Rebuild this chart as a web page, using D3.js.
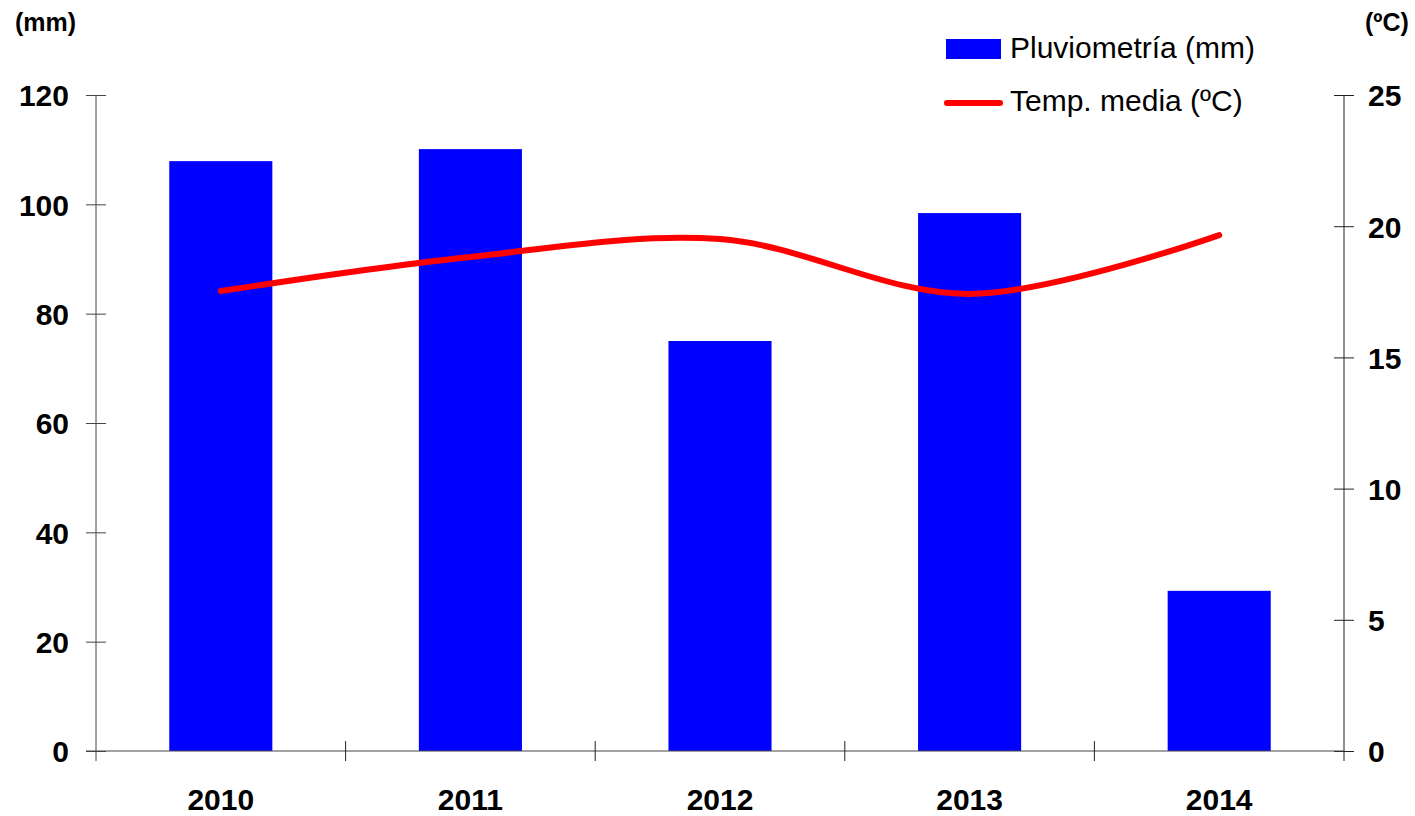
<!DOCTYPE html>
<html>
<head>
<meta charset="utf-8">
<script src="https://cdn.jsdelivr.net/npm/d3@7/dist/d3.min.js"></script>
<style>
  html, body { margin: 0; padding: 0; background: #fff; }
  svg { display: block; font-family: "Liberation Sans", Arial, sans-serif; }
</style>
</head>
<body>
<svg id="chart" width="1415" height="816"></svg>
<script>
// Yearly rainfall (bars, left axis) and mean temperature (line, right axis)
const years = ["2010", "2011", "2012", "2013", "2014"];
const rainfall = [107.9, 110.1, 75.0, 98.4, 29.3];
const temperature = [17.53, 18.83, 19.51, 17.42, 19.66];
const rainTicks = [0, 20, 40, 60, 80, 100, 120];
const tempTicks = [0, 5, 10, 15, 20, 25];
const legendLabels = ["Pluviometría (mm)", "Temp. media (ºC)"];

const svg = d3.select("#chart");
const plot = { left: 96, right: 1344, top: 95, bottom: 751 };

const x = d3.scaleBand().domain(years).range([plot.left, plot.right]).paddingInner(0.587).paddingOuter(0.2935);
const xBand = d3.scaleBand().domain(years).range([plot.left, plot.right]);
const yRain = d3.scaleLinear().domain([0, 120]).range([plot.bottom, plot.top]);
const yTemp = d3.scaleLinear().domain([0, 25]).range([plot.bottom, plot.top]);

// Bars
svg.append("g").selectAll("rect").data(years).join("rect")
  .attr("x", d => x(d))
  .attr("width", x.bandwidth())
  .attr("y", (d, i) => yRain(rainfall[i]))
  .attr("height", (d, i) => yRain(0) - yRain(rainfall[i]))
  .attr("fill", "#0000ff");

// Left axis
const leftAxis = svg.append("g").attr("transform", `translate(${plot.left},0)`)
  .call(d3.axisLeft(yRain).tickValues(rainTicks).tickSize(10).tickSizeOuter(0).tickPadding(0));
leftAxis.select(".domain").remove();
leftAxis.selectAll(".tick line").attr("x1", 10).attr("x2", -10).attr("stroke", "#444");
leftAxis.selectAll(".tick text")
  .attr("x", -27).attr("dy", "0.36em")
  .attr("font-size", 30).attr("font-weight", "bold").attr("fill", "#000")
  .attr("font-family", "Liberation Sans, Arial, sans-serif");
leftAxis.append("line").attr("x1", 0).attr("x2", 0).attr("y1", plot.top).attr("y2", plot.bottom + 10).attr("stroke", "#444");

// Right axis
const rightAxis = svg.append("g").attr("transform", `translate(${plot.right},0)`)
  .call(d3.axisRight(yTemp).tickValues(tempTicks).tickSize(10).tickSizeOuter(0).tickPadding(0));
rightAxis.select(".domain").remove();
rightAxis.selectAll(".tick line").attr("x1", -10).attr("x2", 10).attr("stroke", "#222");
rightAxis.selectAll(".tick text")
  .attr("x", 24).attr("dy", "0.36em")
  .attr("font-size", 30).attr("font-weight", "bold").attr("fill", "#000")
  .attr("font-family", "Liberation Sans, Arial, sans-serif");
rightAxis.append("line").attr("x1", 0).attr("x2", 0).attr("y1", plot.top).attr("y2", plot.bottom + 10).attr("stroke", "#222");

// Bottom axis: category boundary ticks and centred labels
const bottom = svg.append("g");
bottom.append("line").attr("x1", plot.left - 10).attr("x2", plot.right)
  .attr("y1", plot.bottom).attr("y2", plot.bottom).attr("stroke", "#444");
const boundaries = years.map(d => xBand(d)).concat([plot.right]);
bottom.selectAll("line.cat").data(boundaries.slice(1, -1)).join("line")
  .attr("class", "cat")
  .attr("x1", d => d).attr("x2", d => d)
  .attr("y1", plot.bottom - 10).attr("y2", plot.bottom + 10)
  .attr("stroke", "#222");
bottom.selectAll("text").data(years).join("text")
  .attr("x", d => xBand(d) + xBand.bandwidth() / 2)
  .attr("y", 810)
  .attr("text-anchor", "middle")
  .attr("font-size", 30).attr("font-weight", "bold")
  .text(d => d);

// Temperature line (smoothed)
const line = d3.line()
  .x((d, i) => xBand(years[i]) + xBand.bandwidth() / 2)
  .y(d => yTemp(d))
  .curve(d3.curveCatmullRom.alpha(0.5));
svg.append("path").datum(temperature)
  .attr("d", line)
  .attr("fill", "none")
  .attr("stroke", "#ff0000")
  .attr("stroke-width", 6)
  .attr("stroke-linecap", "round")
  .attr("stroke-linejoin", "round");

// Axis unit captions
svg.append("text").attr("x", 15).attr("y", 31)
  .attr("font-size", 25).attr("font-weight", "bold").text("(mm)");
svg.append("text").attr("x", 1365).attr("y", 31)
  .attr("font-size", 25).attr("font-weight", "bold").text("(ºC)");

// Legend
const legend = svg.append("g");
legend.append("rect").attr("x", 946).attr("y", 39).attr("width", 55).attr("height", 20).attr("fill", "#0000ff");
legend.append("text").attr("x", 1010).attr("y", 58).attr("font-size", 30).text(legendLabels[0]);
legend.append("line").attr("x1", 947).attr("x2", 1000).attr("y1", 103).attr("y2", 103)
  .attr("stroke", "#ff0000").attr("stroke-width", 6).attr("stroke-linecap", "round");
legend.append("text").attr("x", 1010).attr("y", 111).attr("font-size", 30).text(legendLabels[1]);
</script>
</body>
</html>
